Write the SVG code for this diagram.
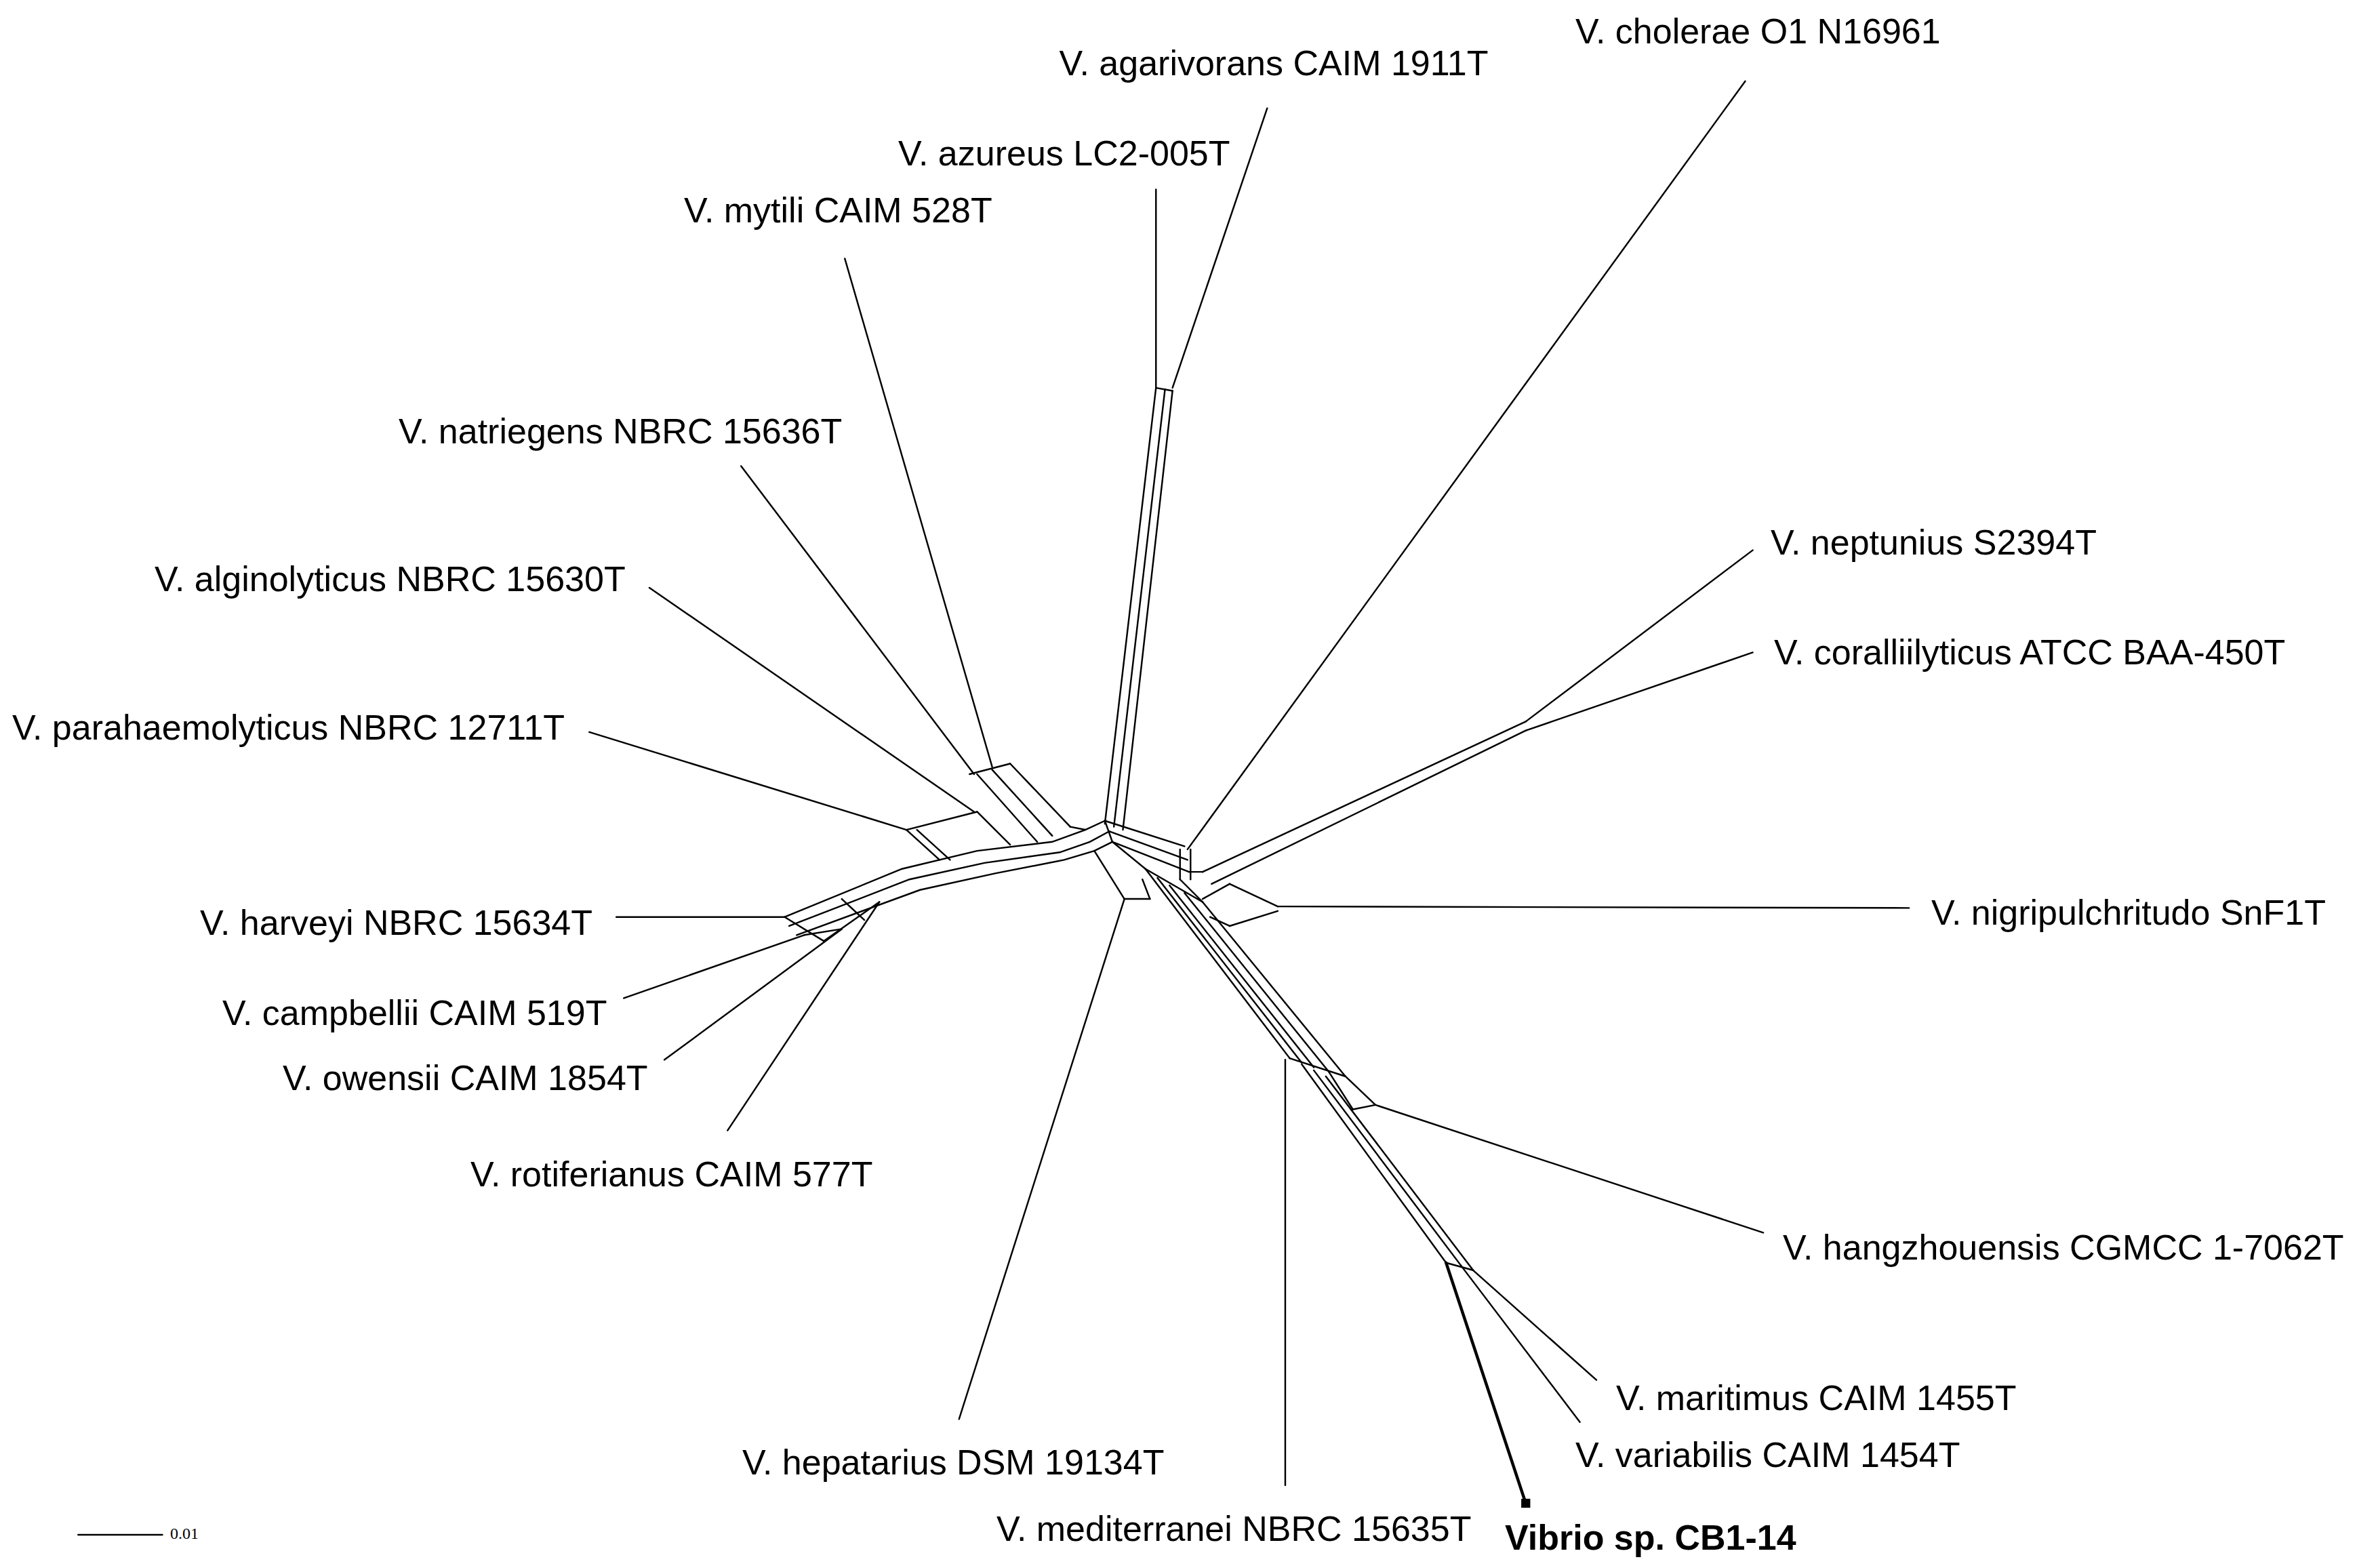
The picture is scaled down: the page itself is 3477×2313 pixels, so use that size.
<svg xmlns="http://www.w3.org/2000/svg" width="3477" height="2313" viewBox="0 0 3477 2313">
<style>
.n line,.n polyline{stroke:#000;stroke-width:1.1;fill:none;stroke-linecap:round}
text{font-family:"Liberation Sans",Arial,sans-serif;font-size:52px;fill:#000}
.b{font-weight:bold}
</style>
<rect width="3477" height="2313" fill="#fff"/>
<g id="connectors" class="n" transform="scale(2.2175)">
<line x1="843" y1="72" x2="780" y2="258"/>
<line x1="769" y1="126" x2="769" y2="258"/>
<line x1="769" y1="258" x2="780" y2="260"/>
<line x1="769" y1="258" x2="735" y2="548"/>
<line x1="775" y1="259" x2="741" y2="550"/>
<line x1="780" y1="260" x2="747" y2="552"/>
<line x1="562" y1="172" x2="660" y2="510"/>
<line x1="493" y1="310" x2="648" y2="515"/>
<line x1="645" y1="515" x2="672" y2="508"/>
<line x1="650" y1="515" x2="690" y2="560"/>
<line x1="660" y1="512" x2="700" y2="556"/>
<line x1="672" y1="508" x2="712" y2="550"/>
<line x1="432" y1="391" x2="648" y2="540"/>
<line x1="392" y1="487" x2="603" y2="552"/>
<line x1="603" y1="552" x2="650" y2="540"/>
<line x1="603" y1="552" x2="625" y2="572"/>
<line x1="610" y1="552" x2="632" y2="572"/>
<line x1="650" y1="540" x2="672" y2="562"/>
<line x1="410" y1="610" x2="522" y2="610"/>
<polyline points="522,610 600,578 650,566 700,560 722,552 735,546"/>
<polyline points="525,616 605,585 655,574 705,567 725,560 738,553"/>
<polyline points="530,622 612,592 662,581 708,572 728,566 740,560"/>
<line x1="712" y1="550" x2="722" y2="552"/>
<line x1="735" y1="546" x2="740" y2="560"/>
<line x1="522" y1="610" x2="548" y2="626"/>
<line x1="560" y1="598" x2="575" y2="612"/>
<line x1="415" y1="664" x2="535" y2="622"/>
<line x1="442" y1="705" x2="560" y2="618"/>
<line x1="484" y1="752" x2="585" y2="600"/>
<line x1="535" y1="622" x2="560" y2="618"/>
<line x1="548" y1="626" x2="585" y2="600"/>
<line x1="638" y1="944" x2="748" y2="598"/>
<line x1="748" y1="598" x2="765" y2="598"/>
<line x1="765" y1="598" x2="760" y2="585"/>
<line x1="748" y1="598" x2="728" y2="566"/>
<line x1="735" y1="546" x2="788" y2="563"/>
<line x1="738" y1="553" x2="790" y2="572"/>
<line x1="740" y1="560" x2="791" y2="580"/>
<line x1="1161" y1="54" x2="790" y2="565"/>
<line x1="785" y1="565" x2="785" y2="585"/>
<line x1="792" y1="565" x2="792" y2="585"/>
<line x1="1166" y1="366" x2="1015" y2="480"/>
<line x1="1166" y1="434" x2="1015" y2="486"/>
<line x1="1015" y1="480" x2="800" y2="580"/>
<line x1="1015" y1="486" x2="806" y2="588"/>
<line x1="791" y1="580" x2="800" y2="580"/>
<line x1="1270" y1="604" x2="850" y2="603"/>
<line x1="850" y1="603" x2="818" y2="588"/>
<line x1="850" y1="606" x2="818" y2="616"/>
<line x1="818" y1="588" x2="800" y2="598"/>
<line x1="818" y1="616" x2="805" y2="610"/>
<line x1="740" y1="560" x2="762" y2="578"/>
<line x1="785" y1="585" x2="800" y2="600"/>
<line x1="762" y1="578" x2="800" y2="600"/>
<line x1="762" y1="578" x2="858" y2="704"/>
<line x1="770" y1="584" x2="866" y2="707"/>
<line x1="778" y1="589" x2="874" y2="710"/>
<line x1="788" y1="594" x2="884" y2="713"/>
<line x1="800" y1="600" x2="895" y2="716"/>
<line x1="858" y1="704" x2="895" y2="716"/>
<line x1="895" y1="716" x2="915" y2="735"/>
<line x1="884" y1="713" x2="900" y2="738"/>
<line x1="900" y1="738" x2="915" y2="735"/>
<line x1="915" y1="735" x2="1173" y2="820"/>
<line x1="855" y1="988" x2="855" y2="705"/>
<line x1="866" y1="708" x2="962" y2="840"/>
<line x1="874" y1="712" x2="972" y2="842"/>
<line x1="882" y1="716" x2="980" y2="845"/>
<line x1="962" y1="840" x2="980" y2="845"/>
<line x1="972" y1="842" x2="1051" y2="946"/>
<line x1="980" y1="845" x2="1062" y2="918"/>
<line x1="962" y1="840" x2="1015" y2="1000" style="stroke-width:2"/>
<rect x="1012" y="997" width="6" height="6" fill="#000"/>
<line x1="52" y1="1021" x2="108" y2="1021"/>
</g>
<g id="labels">
<text x="1879" y="111" text-anchor="middle">V. agarivorans CAIM 1911T</text>
<text x="1325" y="244">V. azureus LC2-005T</text>
<text x="1009" y="328">V. mytili CAIM 528T</text>
<text x="2324" y="64">V. cholerae O1 N16961</text>
<text x="588" y="654">V. natriegens NBRC 15636T</text>
<text x="228" y="872">V. alginolyticus NBRC 15630T</text>
<text x="18" y="1091">V. parahaemolyticus NBRC 12711T</text>
<text x="295" y="1379">V. harveyi NBRC 15634T</text>
<text x="328" y="1512">V. campbellii CAIM 519T</text>
<text x="417" y="1608">V. owensii CAIM 1854T</text>
<text x="694" y="1750">V. rotiferianus CAIM 577T</text>
<text x="1095" y="2175">V. hepatarius DSM 19134T</text>
<text x="1470" y="2273">V. mediterranei NBRC 15635T</text>
<text x="2220" y="2286" class="b">Vibrio sp. CB1-14</text>
<text x="2324" y="2164">V. variabilis CAIM 1454T</text>
<text x="2384" y="2080">V. maritimus CAIM 1455T</text>
<text x="2630" y="1858">V. hangzhouensis CGMCC 1-7062T</text>
<text x="2849" y="1364">V. nigripulchritudo SnF1T</text>
<text x="2617" y="980">V. coralliilyticus ATCC BAA-450T</text>
<text x="2612" y="818">V. neptunius S2394T</text>
<text x="251" y="2270" style="font-family:'Liberation Serif',serif;font-size:24px">0.01</text>
</g>
</svg>
